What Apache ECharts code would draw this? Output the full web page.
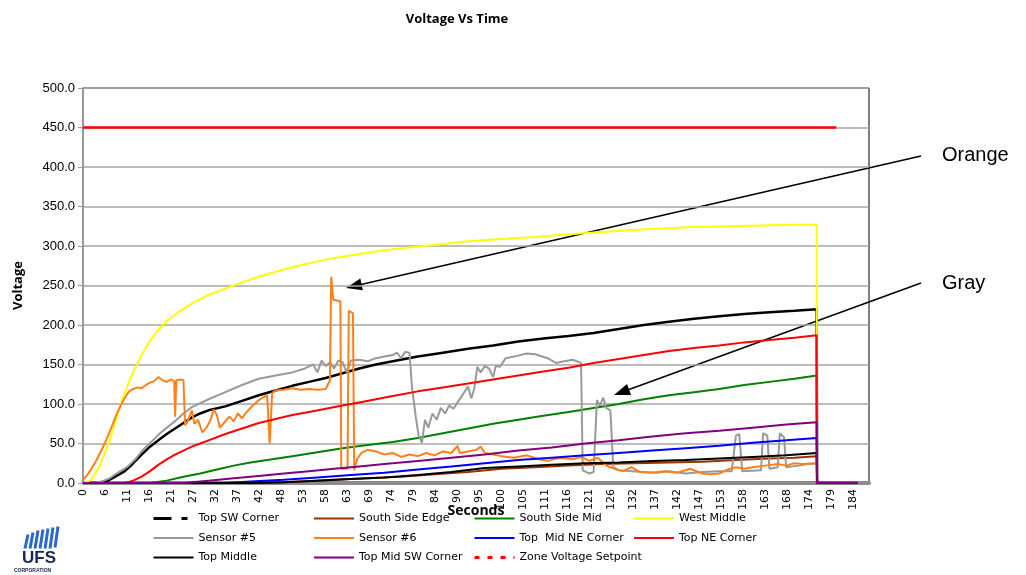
<!DOCTYPE html>
<html>
<head>
<meta charset="utf-8">
<title>Voltage Vs Time</title>
<script src="https://cdn.jsdelivr.net/npm/echarts@6.0.0/dist/echarts.min.js"></script>
<style>
  html, body { margin: 0; padding: 0; background: #fff; }
  #chart { width: 1026px; height: 575px; }
</style>
</head>
<body>
<div id="chart"></div>
<script>
// tick labels of the time axis (seconds)
const xTicks = [0, 6, 11, 16, 21, 27, 32, 37, 42, 48, 53, 58, 63, 69, 74, 79, 84, 90, 95, 100,
  105, 111, 116, 121, 126, 132, 137, 142, 147, 153, 158, 163, 168, 174, 179, 184]

// [seconds, volts]
const topSWCorner = [[0, 0], [4, 0], [6, 3], [8, 9], [10, 15], [12, 25], [14, 36], [16, 46], [18, 54], [20, 62],
  [22, 69], [24, 76], [26, 83], [28, 88], [30, 92], [34, 97], [38, 104], [42, 111], [46, 117], [50, 123],
  [54, 128], [58, 133], [62, 139], [66, 145], [70, 150], [74, 154], [80, 160], [86, 165], [92, 170], [98, 174],
  [104, 179], [110, 183], [116, 186], [122, 190], [128, 195], [134, 200], [140, 204], [146, 208], [152, 211],
  [158, 214], [164, 216], [170, 218], [175.3, 220], [175.4, 0], [185, 0]]
const southSideEdge = [[0, 0], [44, 0], [52, 2], [60, 4], [68, 6], [76, 8], [84, 11], [92, 14], [100, 18],
  [108, 20], [116, 22], [124, 24], [132, 25], [140, 26], [148, 27], [156, 29], [164, 31], [170, 32],
  [175.3, 34], [175.4, 0], [185, 0]]
const southSideMid = [[0, 0], [16, 0], [20, 3], [24, 8], [28, 12], [32, 17], [36, 22], [40, 26], [44, 29],
  [50, 34], [56, 39], [62, 44], [68, 48], [74, 52], [80, 57], [86, 63], [92, 69], [98, 75], [104, 80],
  [110, 85], [116, 90], [122, 95], [128, 100], [134, 106], [140, 111], [146, 115], [152, 119], [158, 124],
  [164, 128], [170, 132], [175.3, 136], [175.4, 0], [185, 0]]
const westMiddle = [[0, 0], [2, 4], [4, 22], [6, 48], [8, 82], [10, 115], [12, 140], [14, 162], [16, 180],
  [18, 194], [20, 205], [23, 217], [26, 227], [30, 238], [34, 246], [38, 254], [42, 261], [47, 269],
  [53, 277], [59, 284], [65, 289], [71, 294], [78, 298], [85, 302], [92, 306], [100, 309], [107, 311],
  [114, 314], [122, 317], [130, 320], [138, 322], [146, 324], [154, 325], [162, 326], [170, 327],
  [175.3, 327], [175.4, 0], [185, 0]]
const sensor5 = [[0, 0], [3, 0], [5, 3], [6.4, 6], [8, 12], [10.5, 20], [12.5, 30], [14.3, 42], [16.5, 53],
  [18.4, 63], [20.5, 72], [22.4, 80], [24, 88], [26, 96], [30, 106], [34, 115], [38, 124], [42, 132],
  [46, 136], [50, 140], [53, 145], [55, 150], [56, 140], [57, 155], [58, 148], [59, 153], [60, 145],
  [61, 155], [62, 153], [63, 140], [64, 155], [66, 156], [68, 154], [70, 158], [72, 160], [74, 162],
  [75, 165], [76, 158], [77, 166], [78, 165], [78.6, 122], [79.5, 84], [80.2, 60], [81, 51], [81.7, 80],
  [82.5, 70], [83.5, 88], [84.5, 80], [85.5, 95], [86.5, 88], [87.5, 98], [88.5, 94], [89.5, 102],
  [90.5, 110], [91.5, 118], [92, 122], [92.8, 107], [93.5, 120], [94.2, 147], [95, 140], [96, 148],
  [97, 145], [98, 134], [98.6, 148], [99.6, 147], [101, 158], [103, 160], [106, 164], [108, 163],
  [111, 158], [113, 152], [115, 154], [117, 156], [119, 152], [119.4, 16], [121, 12], [122, 14],
  [122.8, 105], [123.5, 98], [124.3, 108], [125, 95], [126, 92], [126.7, 20], [128, 16], [131, 15],
  [134, 14], [137, 13], [140, 15], [144, 12], [148, 14], [152, 15], [155, 15], [156, 60], [156.8, 62],
  [157.5, 15], [162, 16], [162.5, 63], [163.5, 60], [164, 18], [166, 20], [166.5, 63], [167.5, 58],
  [168, 20], [171, 22], [173, 24], [175.3, 25], [175.4, 0], [185, 0]]
const sensor6 = [[0, 4], [1, 10], [2, 18], [3, 27], [4, 37], [5, 48], [6, 60], [7, 73], [8, 87], [9, 98],
  [10, 108], [11, 116], [12, 119], [13, 121], [14, 120], [15, 124], [16, 127], [17, 129], [18, 134],
  [19, 130], [20, 128], [21, 131], [21.8, 129], [22, 84], [22.3, 130], [23.5, 131], [24, 130], [24.4, 73],
  [25, 78], [26, 92], [26.6, 75], [27.5, 80], [28.5, 64], [29.5, 70], [30.5, 80], [31.2, 93], [32, 86],
  [32.7, 70], [33.5, 75], [35, 84], [36, 78], [37, 88], [38, 82], [39, 89], [40, 95], [41, 100], [42, 105],
  [43, 108], [44, 111], [44.6, 50], [45.2, 114], [46, 117], [48, 118], [50, 120], [52, 118], [54, 119],
  [56, 118], [58, 119], [59, 130], [59.3, 261], [59.8, 232], [61.5, 230], [61.7, 18], [63.2, 18],
  [63.5, 218], [64.5, 215], [64.8, 16], [65.5, 30], [66.5, 38], [68, 42], [70, 40], [72, 36], [74, 38],
  [76, 33], [78, 36], [80, 34], [82, 38], [84, 35], [86, 40], [88, 38], [89.5, 47], [90, 38], [92, 40],
  [94, 42], [95, 46], [96, 38], [98, 36], [100, 34], [103, 32], [106, 35], [109, 30], [111, 28], [114, 32],
  [117, 30], [119, 33], [121, 28], [123, 32], [125, 22], [127, 18], [129, 15], [131, 20], [133, 14],
  [136, 13], [139, 15], [142, 13], [145, 18], [148, 12], [150, 11], [152, 12], [154, 17], [156, 20],
  [158, 18], [160, 20], [163, 22], [166, 24], [168, 22], [170, 25], [172, 24], [175.3, 25], [175.4, 0],
  [185, 0]]
const topMidNECorner = [[0, 0], [34, 0], [40, 2], [48, 4], [56, 7], [64, 10], [72, 13], [80, 17], [88, 21],
  [96, 25], [104, 29], [112, 32], [120, 35], [128, 38], [136, 41], [144, 44], [152, 47], [160, 51],
  [168, 54], [175.3, 57], [175.4, 0], [185, 0]]
const topNECorner = [[0, 0], [10, 0], [12, 3], [14, 8], [16, 15], [18, 23], [20, 30], [22, 36], [24, 41],
  [26, 46], [28, 50], [30, 54], [34, 62], [38, 69], [42, 76], [46, 81], [50, 86], [54, 90], [58, 94],
  [62, 98], [66, 102], [70, 106], [74, 110], [80, 116], [86, 121], [92, 126], [98, 131], [104, 136],
  [110, 141], [116, 146], [122, 152], [128, 157], [134, 162], [140, 167], [146, 171], [152, 174],
  [158, 178], [164, 181], [170, 184], [175.3, 187], [175.4, 0], [185, 0]]
const topMiddle = [[0, 0], [40, 0], [48, 1], [56, 3], [64, 5], [72, 7], [80, 10], [88, 14], [96, 19],
  [104, 21], [112, 23], [120, 25], [128, 26], [136, 28], [144, 29], [152, 31], [160, 33], [168, 35],
  [175.3, 38], [175.4, 0], [185, 0]]
const topMidSWCorner = [[0, 0], [24, 0], [30, 3], [36, 6], [42, 9], [48, 12], [54, 15], [60, 18], [66, 21],
  [72, 24], [80, 28], [88, 32], [96, 36], [104, 41], [112, 45], [120, 50], [128, 54], [136, 59], [144, 63],
  [152, 66], [160, 70], [168, 74], [175.3, 77], [175.4, 0], [185, 0]]
const zoneSetpoint = [[0, 450], [180, 450]]

const chartDom = echarts.init(document.getElementById('chart'))
const xStep = 184 / 35
const font = 'DejaVu Sans, Verdana, sans-serif'
const boldFont = 'Open Sans, DejaVu Sans, sans-serif'

function line(name, data, color, width) {
  return {
    name: name,
    type: 'line',
    data: data,
    symbol: 'none',
    animation: false,
    lineStyle: { color: color, width: width || 2 },
    itemStyle: { color: color }
  }
}

function legendCol(left, names) {
  return {
    orient: 'vertical',
    left: left,
    top: 513,
    itemWidth: 40,
    itemHeight: 12,
    itemGap: 8.5,
    padding: 0,
    selectedMode: false,
    itemStyle: { opacity: 0 },
    textStyle: { fontFamily: font, fontSize: 11, color: '#000' },
    data: names
  }
}

const option = {
  backgroundColor: '#fff',
  title: {
    text: 'Voltage Vs Time',
    left: 452,
    top: 8,
    textAlign: 'center',
    textStyle: { fontFamily: boldFont, fontSize: 13, fontWeight: 'bold', color: '#000' }
  },
  grid: {
    left: 83,
    right: 1026 - 869,
    top: 88,
    bottom: 575 - 483,
    show: true,
    borderColor: '#000',
    borderWidth: 1
  },
  legend: [
    legendCol(152, [
      { name: 'Top SW Corner', lineStyle: { type: [18, 10, 6, 10], width: 3 } },
      'Sensor #5', 'Top Middle']),
    legendCol(313, ['South Side Edge', 'Sensor #6', 'Top Mid SW Corner']),
    legendCol(473, ['South Side Mid', 'Top  Mid NE Corner',
      { name: 'Zone Voltage Setpoint', lineStyle: { type: [5, 8], width: 3 } }]),
    legendCol(633, ['West Middle', 'Top NE Corner'])
  ],
  xAxis: {
    type: 'value',
    min: 0,
    max: 187.8,
    interval: xStep,
    name: 'Seconds',
    nameLocation: 'middle',
    nameGap: 21,
    nameMoveOverlap: false,
    nameTextStyle: { fontFamily: boldFont, fontSize: 14, fontWeight: 'bold', color: '#000' },
    axisLine: { lineStyle: { color: '#8c8c8c', width: 4 } },
    axisTick: { show: false },
    splitLine: { show: false },
    axisLabel: {
      rotate: 90,
      margin: 6,
      fontFamily: font,
      fontSize: 11,
      color: '#000',
      showMaxLabel: false,
      formatter: function(v) {
        const t = xTicks[Math.round(v / xStep)]
        return t === undefined ? '' : String(t)
      }
    }
  },
  yAxis: {
    type: 'value',
    min: 0,
    max: 500,
    interval: 50,
    name: 'Voltage',
    nameLocation: 'middle',
    nameGap: 58,
    nameRotate: 90,
    nameMoveOverlap: false,
    nameTextStyle: { fontFamily: boldFont, fontSize: 13, fontWeight: 'bold', color: '#000' },
    axisLine: { show: true, lineStyle: { color: '#999', width: 2 } },
    axisTick: { show: true, length: 5, lineStyle: { color: '#999' } },
    splitLine: { lineStyle: { color: '#a6a6a6', width: 1.5 } },
    axisLabel: {
      fontFamily: 'Liberation Sans, Arial, sans-serif',
      fontSize: 13,
      color: '#000',
      margin: 8,
      formatter: function(v) { return v.toFixed(1) }
    }
  },
  series: [
    line('Top SW Corner', topSWCorner, '#000000', 2.5),
    line('South Side Edge', southSideEdge, '#993300'),
    line('South Side Mid', southSideMid, '#008000'),
    line('West Middle', westMiddle, '#ffff00'),
    line('Sensor #5', sensor5, '#999999'),
    line('Sensor #6', sensor6, '#ff7f1a'),
    line('Top  Mid NE Corner', topMidNECorner, '#0000ff'),
    line('Top NE Corner', topNECorner, '#ff0000'),
    line('Top Middle', topMiddle, '#000000'),
    line('Top Mid SW Corner', topMidSWCorner, '#800080'),
    line('Zone Voltage Setpoint', zoneSetpoint, '#ff0000', 2.5)
  ],
  graphic: [
    // annotation arrows
    { type: 'line', shape: { x1: 921, y1: 156, x2: 361, y2: 284.5 }, style: { stroke: '#000', lineWidth: 1.5 } },
    { type: 'polygon', shape: { points: [[346, 288], [362.9, 290.2], [360.3, 278.6]] }, style: { fill: '#000' } },
    { type: 'text', left: 942, top: 145, style: { text: 'Orange', fontFamily: 'Liberation Sans, Arial, sans-serif', fontSize: 20, fill: '#000' } },
    { type: 'line', shape: { x1: 921, y1: 283, x2: 629, y2: 389.5 }, style: { stroke: '#000', lineWidth: 1.5 } },
    { type: 'polygon', shape: { points: [[614, 395], [631.1, 395.1], [627.0, 383.9]] }, style: { fill: '#000' } },
    { type: 'text', left: 942, top: 273, style: { text: 'Gray', fontFamily: 'Liberation Sans, Arial, sans-serif', fontSize: 20, fill: '#000' } },
    // UFS logo
    {
      type: 'group',
      left: 14,
      top: 524,
      children: [
        { type: 'line', shape: { x1: 12, y1: 24, x2: 15, y2: 10 }, style: { stroke: '#3068c8', lineWidth: 3 } },
        { type: 'line', shape: { x1: 17, y1: 24, x2: 20, y2: 8 }, style: { stroke: '#3068c8', lineWidth: 3 } },
        { type: 'line', shape: { x1: 22, y1: 24, x2: 25, y2: 6 }, style: { stroke: '#3068c8', lineWidth: 3 } },
        { type: 'line', shape: { x1: 27, y1: 24, x2: 30, y2: 5 }, style: { stroke: '#3068c8', lineWidth: 3 } },
        { type: 'line', shape: { x1: 32, y1: 24, x2: 35, y2: 4 }, style: { stroke: '#3068c8', lineWidth: 3 } },
        { type: 'line', shape: { x1: 37, y1: 24, x2: 40, y2: 3 }, style: { stroke: '#3068c8', lineWidth: 3 } },
        { type: 'line', shape: { x1: 42, y1: 23, x2: 45, y2: 2 }, style: { stroke: '#3068c8', lineWidth: 3 } },
        { type: 'text', x: 9, y: 25, style: { text: 'UFS', fontFamily: 'Liberation Sans, Arial, sans-serif', fontSize: 17, fontWeight: 'bold', fill: '#14284b' } },
        { type: 'text', x: 1, y: 44, style: { text: 'CORPORATION', fontFamily: 'Liberation Sans, Arial, sans-serif', fontSize: 5, fontWeight: 'bold', fill: '#14284b' } }
      ]
    }
  ]
}

chartDom.setOption(option)
</script>
</body>
</html>
